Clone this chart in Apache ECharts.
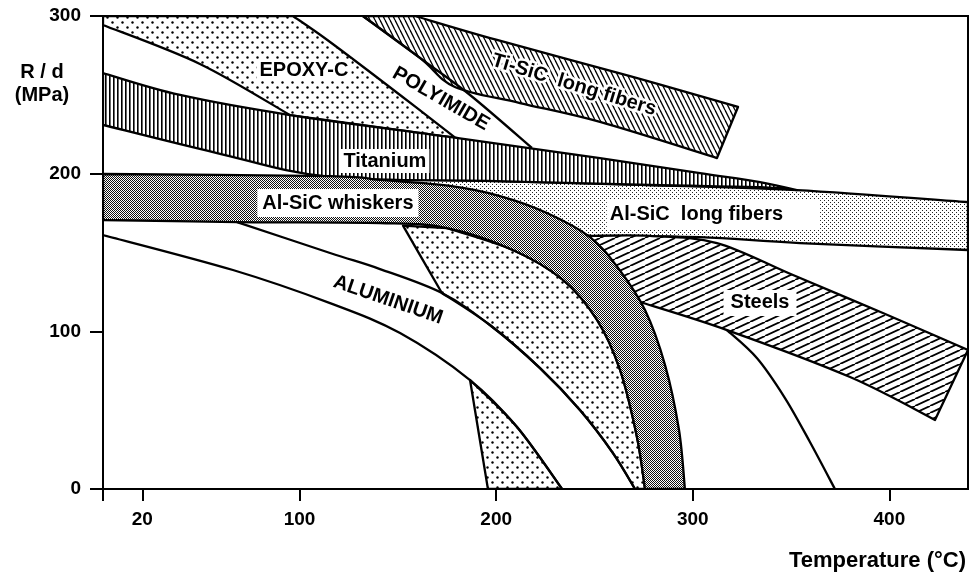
<!DOCTYPE html>
<html><head><meta charset="utf-8">
<script src="https://cdn.jsdelivr.net/npm/echarts@6/dist/echarts.min.js"></script>
<style>html,body{margin:0;padding:0;background:#fff}#chart{width:973px;height:578px}</style>
</head><body><div id="chart"></div>
<script>
// ---------- DATA: points are [temperature °C, R/d MPa] ----------
const xTickValues = [0, 20, 100, 200, 300, 400];
const xTickLabels = [20, 100, 200, 300, 400];
const yTickValues = [0, 100, 200, 300];

const epoxyTop        = [[0,300],[96.6,300]];
const epoxyRightEdge  = [[96.6,300],[115.5,283.5],[151.1,249.9],[180.6,221.4]];
const epoxyLowerEdge  = [[0,294.3],[49.3,269.6],[95.1,237.2]];
const polyimideEdge   = [[132.2,300],[161.2,273.4],[186.7,249.9],[218.2,216.3]];
const tiSicTop        = [[132.2,300],[158.7,300]];
const tiSicUpper      = [[158.7,300],[200.4,284.8],[268.1,261.9],[323,242.3]];
const tiSicEnd        = [[323,242.3],[312.3,209.9]];
const tiSicLower      = [[132.2,300],[161.2,273.4],[179,255],[212.1,244.8],[252.8,232.8],[312.3,209.9]];
const titaniumUpper   = [[0,263.8],[39.2,249.9],[95.1,237.2],[180.6,222.6],[252.8,209.9],[303.7,200.4],[334.2,194.7],[353,189.6]];
const titaniumLower   = [[0,230.9],[58,213.1],[115.5,197.9],[200.4,195.3],[278.2,192.8],[334.2,191.5],[353,189.6]];
const whiskerUpper    = [[0,199.8],[115.5,198.5],[140.9,196],[176.5,192.2],[201.9,185.8],[225.8,175.1],[247.7,159.8],[262,140.2],[275.7,113.5],[285.9,78.6],[293,37.4],[296,0]];
const whiskerLower    = [[0,170.6],[68.2,169.3],[140.9,168.7],[175,165.5],[208.5,151.6],[234,132.6],[251.3,107.2],[263,75.5],[271.6,33],[275.7,0]];
const longFiberUpper  = [[140.9,196.6],[200.4,195.3],[278.2,192.8],[353,189.6],[440,182]];
const longFiberLower  = [[247.7,160.5],[303.7,159.8],[354.5,156],[440,151.6]];
const longFiberHidden = [[201.9,175],[140.9,192]];
const steelUpper      = [[247.7,160.5],[278.2,160.5],[312.3,156],[351,135.7],[396.7,111.6],[440,88.2]];
const steelEnd        = [[440,88.2],[423.2,43.8]];
const steelLower      = [[273.1,118.6],[317.4,100.8],[380,71],[423.2,43.8]];
const steelHidden     = [[252.8,148.4]];
const steelTail       = [[317.4,100.8],[332.6,83.1],[346.9,57.7],[359.6,29.8],[372.3,0]];
const aluminiumUpper  = [[68.2,169.3],[115.5,149.7],[140.9,139.5],[172.4,124.3],[196.8,104],[222.3,76.7],[242.6,50.1],[259.4,22.8],[270.6,0]];
const aluminiumLower  = [[0,161.1],[66.1,138.9],[115.5,117.9],[151.1,98.9],[186.7,69.1],[210.6,39.3],[233.5,0]];
const dottedLeftEdge  = [[152.6,167],[172.4,124.3]];
const triangleLeftEdge= [[186.7,69.1],[195.8,0]];

const labelNames  = ['EPOXY-C','POLYIMIDE','Ti-SiC  long fibers','Titanium','Al-SiC whiskers','Al-SiC  long fibers','Steels','ALUMINIUM'];
const labelTemps  = [102.2, 171.9, 239.6, 143.4, 119.5, 310.5, 334.2, 145.0];
const labelValues = [265.7, 247.4, 256.2, 208.0, 181.4, 174.4, 118.0, 119.9];

// ---------- STYLE ----------
const FONT = '"Liberation Sans", Arial, sans-serif';
const labelStyle = {
  'EPOXY-C': {bg:true, pad:[1,3]},
  'POLYIMIDE': {rot:-30},
  'Ti-SiC  long fibers': {rot:-17, halo:true},
  'Titanium': {bg:true, pad:[2,3]},
  'Al-SiC whiskers': {bg:true, pad:[4,5]},
  'Al-SiC  long fibers': {bg:true, pad:[5,37,5,3]},
  'Steels': {bg:true, pad:[3,7]},
  'ALUMINIUM': {rot:-19}
};

function pattern(w, h, draw) {
  const c = document.createElement('canvas');
  c.width = w; c.height = h;
  const ctx = c.getContext('2d');
  ctx.fillStyle = '#fff'; ctx.fillRect(0, 0, w, h);
  ctx.fillStyle = '#000'; ctx.strokeStyle = '#000';
  draw(ctx);
  return {image: c, repeat: 'repeat'};
}
const dots = pattern(10, 10, ctx => {
  [[2.5,2.5],[7.5,7.5]].forEach(([x,y]) => { ctx.beginPath(); ctx.arc(x, y, 1.2, 0, Math.PI*2); ctx.fill(); });
});
const vertical = pattern(4, 4, ctx => { ctx.fillRect(1, 0, 1.6, 4); });
const steepBack = pattern(5, 10, ctx => {
  ctx.lineWidth = 1.3;
  [-5, 0, 5].forEach(x0 => { ctx.beginPath(); ctx.moveTo(x0, 0); ctx.lineTo(x0 + 5, 10); ctx.stroke(); });
});
const flatFwd = pattern(15, 7, ctx => {
  ctx.lineWidth = 1.8;
  [-15, 0, 15].forEach(x0 => { ctx.beginPath(); ctx.moveTo(x0, 7); ctx.lineTo(x0 + 15, 0); ctx.stroke(); });
});
const checker = pattern(4, 4, ctx => {
  ctx.fillStyle = '#111';
  for (let y = 0; y < 4; y++) for (let x = 0; x < 4; x++) if ((x + y) % 2 === 0) ctx.fillRect(x, y, 1, 1);
});
const stipple = pattern(4, 4, ctx => { ctx.fillStyle = '#222'; ctx.fillRect(0, 0, 1, 1); ctx.fillRect(2, 2, 1, 1); });

const rev = a => a.slice().reverse();
const between = (a, lo, hi) => a.filter(p => p[0] >= lo && p[0] <= hi);

function toPath(edges, api, close) {
  let d = '';
  edges.forEach((edge, i) => {
    const p = edge.map(q => api.coord(q));
    d += (i === 0 ? 'M' : ' L') + p[0][0] + ' ' + p[0][1];
    for (let k = 0; k < p.length - 1; k++) {
      const p0 = p[k-1] || p[k], p1 = p[k], p2 = p[k+1], p3 = p[k+2] || p2;
      const c1x = p1[0] + (p2[0]-p0[0])/6, c1y = p1[1] + (p2[1]-p0[1])/6;
      const c2x = p2[0] - (p3[0]-p1[0])/6, c2y = p2[1] - (p3[1]-p1[1])/6;
      d += ` C${c1x} ${c1y} ${c2x} ${c2y} ${p2[0]} ${p2[1]}`;
    }
  });
  return close ? d + ' Z' : d;
}

let zc = 2;
function shapeSeries(name, edges, fill, close) {
  const pts = [].concat(...edges);
  return {
    type: 'custom', name, z: zc++, clip: true, silent: true,
    coordinateSystem: 'cartesian2d', encode: {x: 0, y: 1}, data: pts,
    renderItem(params, api) {
      if (params.dataIndex !== 0) return null;
      return {type: 'path', shape: {pathData: toPath(edges, api, close)},
        style: {fill: close ? fill : 'none', stroke: '#000', lineWidth: 2.3, lineJoin: 'round'}};
    }
  };
}

const series = [
  shapeSeries('EPOXY-C', [epoxyTop, epoxyRightEdge, rev(between(titaniumUpper, 95, 181)), rev(epoxyLowerEdge)], dots, true),
  shapeSeries('Ti-SiC long fibers', [tiSicTop, tiSicUpper, tiSicEnd, rev(tiSicLower)], steepBack, true),
  shapeSeries('Al-SiC long fibers', [longFiberUpper, rev(longFiberLower), longFiberHidden], stipple, true),
  shapeSeries('Steels', [steelUpper, steelEnd, rev(steelLower), steelHidden], flatFwd, true),
  shapeSeries('Dotted', [dottedLeftEdge, aluminiumUpper.slice(3), rev(whiskerLower).slice(0,7)], dots, true),
  shapeSeries('Triangle', [triangleLeftEdge, rev(aluminiumLower).slice(0,3)], dots, true),
  shapeSeries('Titanium', [titaniumUpper, rev(titaniumLower)], vertical, true),
  shapeSeries('Al-SiC whiskers', [whiskerUpper, rev(whiskerLower)], checker, true),
  shapeSeries('Polyimide line', [polyimideEdge], null, false),
  shapeSeries('Aluminium upper', [aluminiumUpper], null, false),
  shapeSeries('Aluminium lower', [aluminiumLower], null, false),
  shapeSeries('Steel tail', [steelTail], null, false),
  {
    type: 'custom', name: 'labels', z: 40, silent: true, coordinateSystem: 'cartesian2d',
    encode: {x: 0, y: 1},
    data: labelTemps.map((t, i) => [t, labelValues[i]]),
    renderItem(params, api) {
      const i = params.dataIndex;
      const c = api.coord([api.value(0), api.value(1)]);
      const s = labelStyle[labelNames[i]] || {};
      return {type: 'text', x: c[0], y: c[1], rotation: (s.rot || 0) * Math.PI / 180,
        style: {text: labelNames[i], font: 'bold 20px ' + FONT, fill: '#000', align: 'center', verticalAlign: 'middle',
          backgroundColor: s.bg ? '#fff' : null, padding: s.pad || 0,
          stroke: s.halo ? '#fff' : null, lineWidth: s.halo ? 5 : 0}};
    }
  }
];

const chart = echarts.init(document.getElementById('chart'), null, {renderer: 'canvas'});
chart.setOption({
  animation: false,
  backgroundColor: '#fff',
  grid: {left: 103, right: 5, top: 16, bottom: 89, show: true, borderColor: '#000', borderWidth: 2, outerBoundsMode: 'none'},
  xAxis: {
    type: 'value', min: 0, max: 440,
    axisLine: {lineStyle: {color: '#000', width: 2}},
    axisTick: {customValues: xTickValues, length: 12, lineStyle: {color: '#000', width: 2}},
    axisLabel: {customValues: xTickLabels, color: '#000', fontWeight: 'bold', fontSize: 19, fontFamily: FONT, margin: 21},
    splitLine: {show: false}
  },
  yAxis: {
    type: 'value', min: 0, max: 300, interval: 100,
    axisLine: {show: true, lineStyle: {color: '#000', width: 2}},
    axisTick: {show: true, customValues: yTickValues, length: 13, lineStyle: {color: '#000', width: 2}},
    axisLabel: {color: '#000', fontWeight: 'bold', fontSize: 19, fontFamily: FONT, margin: 22, showMinLabel: true, showMaxLabel: true},
    splitLine: {show: false}
  },
  graphic: [
    {type: 'text', x: 42, y: 84, silent: true, style: {text: 'R / d\n(MPa)', font: 'bold 20px ' + FONT, fill: '#000', align: 'center', verticalAlign: 'middle', lineHeight: 23}},
    {type: 'text', x: 966, y: 561, silent: true, style: {text: 'Temperature (°C)', font: 'bold 22px ' + FONT, fill: '#000', align: 'right', verticalAlign: 'middle'}}
  ],
  series
});
</script></body></html>
